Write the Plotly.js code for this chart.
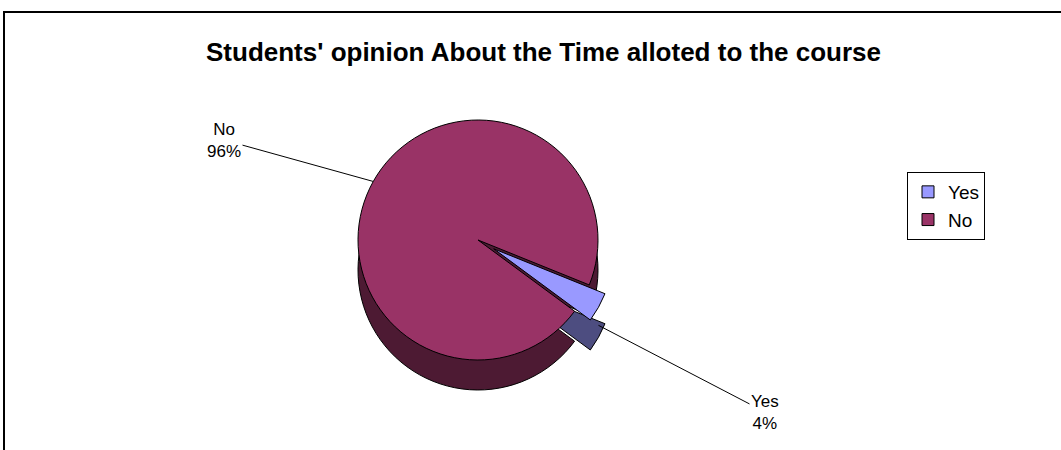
<!DOCTYPE html>
<html>
<head>
<meta charset="utf-8">
<script src="https://cdn.plot.ly/plotly-3.0.1.min.js"></script>
<style>html,body{margin:0;padding:0;background:#fff}#chart{width:1061px;height:450px}</style>
</head>
<body>
<div id="chart"></div>
<script>
// ---- data ----
const categories = ["Yes", "No"];
const percentValues = [4, 96];
const topColors = ["#9999FF", "#993366"];
const sideColors = ["#4D4D80", "#4D1A33"];
const chartTitle = "Students' opinion About the Time alloted to the course";

// ---- geometry (layout only) ----
const W = 1061, H = 450;
const cx = 478, cy = 240, half = 138, depth = 30;
const pulls = [0.15, 0];
const rotation = 112;
const FONT = "Arial, Liberation Sans, sans-serif";

function domainFor(centerY) {
  return {
    x: [(cx - half) / W, (cx + half) / W],
    y: [(H - centerY - half) / H, (H - centerY + half) / H]
  };
}

const sideTrace = {
  type: "pie", labels: categories, values: percentValues, sort: false,
  direction: "clockwise", rotation: rotation, pull: pulls,
  marker: { colors: sideColors, line: { color: "#000", width: 1 } },
  textinfo: "none", hoverinfo: "skip", showlegend: false,
  domain: domainFor(cy + depth)
};
const topTrace = {
  type: "pie", labels: categories, values: percentValues, sort: false,
  direction: "clockwise", rotation: rotation, pull: pulls,
  marker: { colors: topColors, line: { color: "#000", width: 1 } },
  textinfo: "none", hoverinfo: "label+percent",
  domain: domainFor(cy)
};

// label annotations with leader lines, tips computed from slice angles
const total = percentValues.reduce((a, b) => a + b, 0);
const r = half / (1 + Math.max(...pulls));
const labelCenters = [{ x: 765, y: 412 }, { x: 224, y: 140 }];
const annotations = [{
  text: "<b>" + chartTitle + "</b>", xref: "paper", yref: "paper",
  x: 543 / W, y: 1 - 52 / H, xanchor: "center", yanchor: "middle", showarrow: false,
  font: { family: FONT, size: 26, color: "#000" }
}];
let start = rotation;
categories.forEach((c, i) => {
  const sweep = percentValues[i] / total * 360;
  const mid = (start + sweep / 2) * Math.PI / 180;
  start += sweep;
  const rr = r * (1 + pulls[i]);
  const ex = cx + rr * Math.sin(mid);
  const ey = cy - rr * Math.cos(mid) + (i === 0 ? depth * 0.6 : 0);
  const lc = labelCenters[i];
  annotations.push({
    text: c + "<br>" + Math.round(percentValues[i] / total * 100) + "%",
    xref: "paper", yref: "paper",
    x: ex / W, y: 1 - ey / H,
    ax: lc.x - ex, ay: lc.y - ey,
    showarrow: true, arrowhead: 0, arrowwidth: 1, arrowcolor: "#000",
    standoff: 0,
    font: { family: FONT, size: 17, color: "#000" },
    align: "center"
  });
});

const layout = {
  width: W, height: H,
  margin: { l: 0, r: 0, t: 0, b: 0 },
  paper_bgcolor: "#fff",
  showlegend: true,
  legend: {
    x: 907 / W, y: 1 - 172 / H, xanchor: "left", yanchor: "top",
    bordercolor: "#000", borderwidth: 1, bgcolor: "#fff",
    font: { family: FONT, size: 19, color: "#000" },
    traceorder: "normal", itemwidth: 30
  },
  annotations: annotations,
  shapes: [{
    type: "rect", xref: "paper", yref: "paper",
    x0: 4 / W, x1: 1.01, y0: -0.01, y1: 1 - 12 / H,
    line: { color: "#000", width: 2 }, fillcolor: "rgba(0,0,0,0)", layer: "below"
  }]
};

Plotly.newPlot("chart", [sideTrace, topTrace], layout, { staticPlot: true });
</script>
</body>
</html>
